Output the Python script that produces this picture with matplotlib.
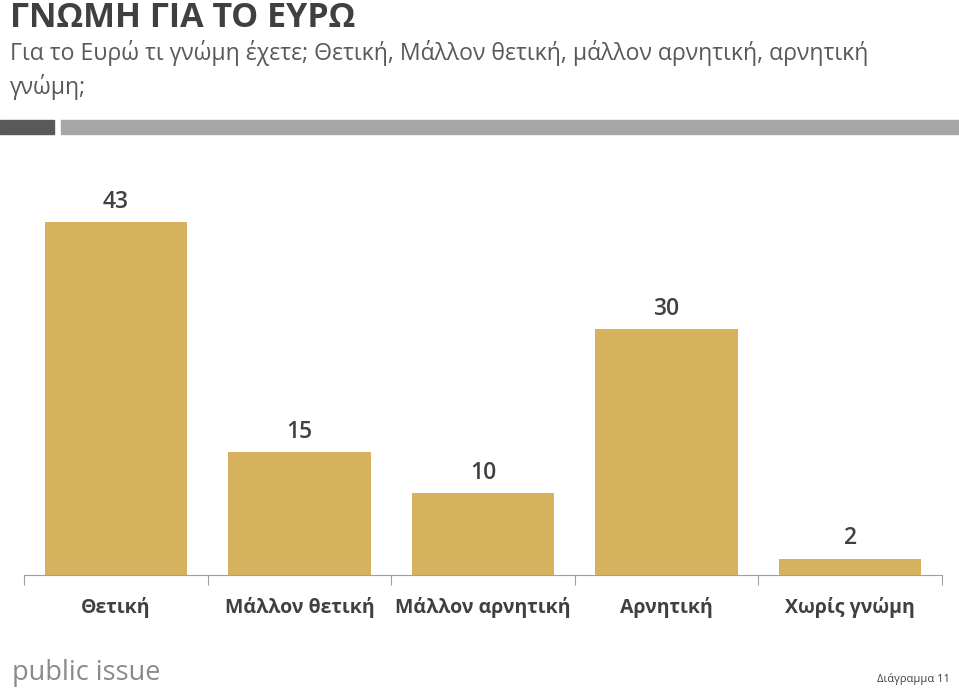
import matplotlib.pyplot as plt
from matplotlib.patches import Rectangle

plt.rcParams['font.family'] = ['Open Sans', 'DejaVu Sans']

categories = ['Θετική', 'Μάλλον θετική', 'Μάλλον αρνητική', 'Αρνητική', 'Χωρίς γνώμη']
values = [43, 15, 10, 30, 2]

title = 'ΓΝΩΜΗ ΓΙΑ ΤΟ ΕΥΡΩ'
subtitle = 'Για το Ευρώ τι γνώμη έχετε; Θετική, Μάλλον θετική, μάλλον αρνητική, αρνητική\nγνώμη;'

bar_color = '#D7B25E'
dark = '#404040'

fig = plt.figure(figsize=(9.59, 6.89), dpi=100)
ax = fig.add_axes([24/959, 1-575/689, 918/959, 425/689])

x = range(len(categories))
ax.bar(x, values, width=0.775, color=bar_color)
for i, v in enumerate(values):
    ax.text(i, v + 1.0, str(v), ha='center', va='bottom', fontsize=16.5,
            fontweight='semibold', color=dark)

ax.set_xlim(-0.5, len(categories) - 0.5)
ax.set_ylim(0, 51.8)
ax.set_yticks([])
ax.set_xticks([i + 0.5 for i in range(-1, len(categories))])
ax.set_xticklabels([])
ax.set_xticks(list(x), minor=True)
ax.set_xticklabels(categories, minor=True, fontsize=14, fontweight='bold', color=dark)
ax.tick_params(axis='x', which='major', length=7, color='#a0a0a0', direction='out')
ax.tick_params(axis='x', which='minor', length=0, pad=16)
for s in ['top', 'left', 'right']:
    ax.spines[s].set_visible(False)
ax.spines['bottom'].set_color('#a0a0a0')

fig.text(10/959, 1-18/689, title, fontsize=24.5, fontweight='bold', color=dark, va='center')
fig.text(10/959, 1-40/689, subtitle, fontsize=16.6, color='#595959', va='top', linespacing=1.4)

fig.add_artist(Rectangle((0, 1-134/689), 54/959, 14/689, transform=fig.transFigure, color='#595959'))
fig.add_artist(Rectangle((61/959, 1-134/689), 898/959, 14/689, transform=fig.transFigure, color='#A6A6A6'))

fig.text(12/959, 1-673/689, 'public issue', fontsize=19.5, color='#8a8a8a', va='center')
fig.text(950/959, 1-679/689, 'Διάγραμμα 11', fontsize=8, color=dark, ha='right', va='center')

fig.savefig('out.png', dpi=100)
